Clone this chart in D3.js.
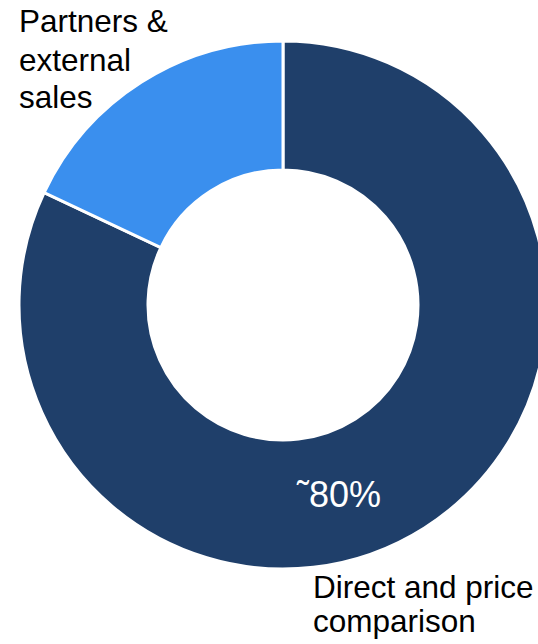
<!DOCTYPE html>
<html>
<head>
<meta charset="utf-8">
<script src="https://cdn.jsdelivr.net/npm/d3@7"></script>
<style>
  html, body { margin: 0; padding: 0; background: #fff; }
  svg { display: block; }
  text { font-family: "Liberation Sans", Arial, sans-serif; }
</style>
</head>
<body>
<svg id="chart" width="538" height="644"></svg>
<script>
const categories = ["Direct and price comparison", "Partners & external sales"];
const values = [82, 18];
const colors = ["#1f3f6a", "#3a8fee"];
const centerLabel = "˜80%";
const labelLinesTop = ["Partners &", "external", "sales"];
const labelLinesBottom = ["Direct and price", "comparison"];

const svg = d3.select("#chart");
const cx = 283, cy = 305, outerR = 264, innerR = 135;

const pie = d3.pie().sort(null).value(d => d.value);
const arc = d3.arc().innerRadius(innerR).outerRadius(outerR);
const data = categories.map((c, i) => ({ name: c, value: values[i], color: colors[i] }));

const g = svg.append("g").attr("transform", `translate(${cx},${cy})`);
g.selectAll("path").data(pie(data)).join("path")
  .attr("d", arc)
  .attr("fill", d => d.data.color)
  .attr("stroke", "#fff")
  .attr("stroke-width", 3);

svg.append("text")
  .attr("x", 297).attr("y", 507)
  .attr("fill", "#fff")
  .attr("font-size", 36)
  .text(centerLabel);

const topLabel = svg.append("text").attr("font-size", 31.5).attr("fill", "#000");
[32, 71, 108].forEach((y, i) => topLabel.append("tspan").attr("x", 19).attr("y", y).text(labelLinesTop[i]));

const botLabel = svg.append("text").attr("font-size", 31.5).attr("fill", "#000");
[598, 632].forEach((y, i) => botLabel.append("tspan").attr("x", 313).attr("y", y).text(labelLinesBottom[i]));
</script>
</body>
</html>
